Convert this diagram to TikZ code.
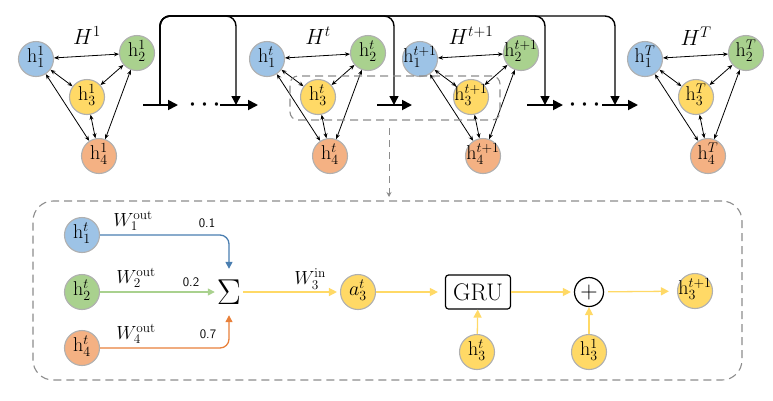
\RequirePackage{fix-cm}
\documentclass[tikz,border=0pt]{standalone}
\usetikzlibrary{arrows.meta,calc}
\definecolor{cblue}{HTML}{9DC3E6}
\definecolor{cgreen}{HTML}{A9D18E}
\definecolor{cyellow}{HTML}{FFD966}
\definecolor{corange}{HTML}{F4B183}
\definecolor{ablue}{HTML}{4A7EB0}
\definecolor{agreen}{HTML}{A9D18E}
\definecolor{aorange}{HTML}{E8803A}
\definecolor{ayellow}{HTML}{FFD966}
\definecolor{cborder}{HTML}{B0B0B0}
\definecolor{dgray}{HTML}{8C8C8C}
\newcommand\ctrtext[1]{\makebox[0pt]{\raisebox{-0.45ex}[0pt][0pt]{$#1$}}}
\tikzset{
  hnode/.style={circle, minimum size=35pt, inner sep=0pt, draw=cborder, line width=1.1pt, font=\fontsize{20}{22}\selectfont},
  gedge/.style={{Stealth[length=5pt,width=4pt]}-{Stealth[length=5pt,width=4pt]}, line width=0.8pt},
  mainarrow/.style={line width=1.8pt, -{Triangle[length=10pt,width=10pt]}},
  droparrow/.style={line width=1.4pt, rounded corners=10pt, -{Triangle[length=9pt,width=9pt]}},
  glabel/.style={font=\fontsize{22}{24}\selectfont},
  dotsnode/.style={font=\fontsize{32}{34}\selectfont, inner sep=0pt},
  barrow/.style={line width=1.3pt, -{Triangle[length=7pt,width=7pt]}},
  yarrow/.style={line width=1.3pt, ayellow, -{Triangle[length=8pt,width=8pt]}, shorten >=3pt},
  wlabel/.style={font=\fontsize{19}{21}\selectfont, inner sep=0pt},
  numlabel/.style={font=\sffamily\fontsize{13}{15}\selectfont, inner sep=0pt},
  dashbox/.style={draw=dgray, line width=1.1pt, dash pattern=on 8pt off 5pt},
}
\newcommand\hgroup[4]{%
  \begin{scope}[shift={(#2,0)}]
    \node[hnode, fill=cblue]   (#1a) at (0,59)   {\ctrtext{\mathrm{h}_{1}^{#3}}};
    \node[hnode, fill=cgreen]  (#1b) at (101,53) {\ctrtext{\mathrm{h}_{2}^{#3}}};
    \node[hnode, fill=cyellow] (#1c) at (51,97)  {\ctrtext{\mathrm{h}_{3}^{#3}}};
    \node[hnode, fill=corange] (#1d) at (63,156) {\ctrtext{\mathrm{h}_{4}^{#3}}};
    \node[glabel] (#1l) at (51,36) {$H^{#4}$};
    \draw[gedge] (#1a) -- (#1b);
    \draw[gedge] (#1a) -- (#1c);
    \draw[gedge] (#1b) -- (#1c);
    \draw[gedge] (#1a) -- (#1d);
    \draw[gedge] (#1b) -- (#1d);
    \draw[gedge] (#1c) -- (#1d);
  \end{scope}}
\begin{document}
\begin{tikzpicture}[x=1pt,y=-1pt]
\useasboundingbox (0,0) rectangle (773,400);
% graph snapshots
\hgroup{g1}{36}{1}{1}
\hgroup{gt}{267}{t}{t}
\hgroup{gu}{420}{t+1}{t+1}
\hgroup{gT}{645}{T}{T}
% main horizontal arrows
\coordinate (m1s) at (143,105); \coordinate (m1e) at (178,105);
\coordinate (m2s) at (220,105); \coordinate (m2e) at (258,105);
\coordinate (m3s) at (377,105); \coordinate (m3e) at (412,105);
\coordinate (m4s) at (527,105); \coordinate (m4e) at (563,105);
\coordinate (m5s) at (602,105); \coordinate (m5e) at (638,105);
\draw[mainarrow] (m1s) -- (m1e);
\draw[mainarrow] (m2s) -- (m2e);
\draw[mainarrow] (m3s) -- (m3e);
\draw[mainarrow] (m4s) -- (m4e);
\draw[mainarrow] (m5s) -- (m5e);
\node[dotsnode] (dots1) at (205,105) {${\cdot}\hspace{3pt}{\cdot}\hspace{3pt}{\cdot}$};
\node[dotsnode] (dots2) at (585,105) {${\cdot}\hspace{3pt}{\cdot}\hspace{3pt}{\cdot}$};
% skip connections
\coordinate (src) at (160,105);
\coordinate (d1) at (236,105);
\coordinate (d2) at (394,105);
\coordinate (d3) at (545,105);
\coordinate (d4) at (615,105);
\draw[droparrow] (src) -- (160,16) -| (d1);
\draw[droparrow] (src) -- (160,16) -| (d2);
\draw[droparrow] (src) -- (160,16) -| (d3);
\draw[droparrow] (src) -- (160,16) -| (d4);
% selection box
\node[dashbox, rounded corners=8pt, minimum width=210pt, minimum height=44pt, inner sep=0pt] (sel) at (395,98) {};
\coordinate (zs) at (389,128);
\coordinate (ze) at (389,197);
\draw[dgray, line width=1pt, dash pattern=on 7pt off 5pt, -{Stealth[length=5pt,width=5pt]}] (zs) -- (ze);
% detail box
\node[dashbox, rounded corners=20pt, minimum width=709pt, minimum height=179pt, inner sep=0pt] (detail) at (387.5,290.5) {};
% detail nodes
\node[hnode, fill=cblue]   (b1) at (82,235) {\ctrtext{\mathrm{h}_{1}^{t}}};
\node[hnode, fill=cgreen]  (b2) at (82,292) {\ctrtext{\mathrm{h}_{2}^{t}}};
\node[hnode, fill=corange] (b4) at (82,348) {\ctrtext{\mathrm{h}_{4}^{t}}};
\node[inner sep=0pt, minimum width=28pt, minimum height=46pt, font=\fontsize{36}{38}\selectfont] (sig) at (229,292) {$\Sigma$};
\node[hnode, fill=cyellow] (a3) at (358,292) {\ctrtext{a_{3}^{t}}};
\node[draw=black, line width=1.2pt, rounded corners=3pt, minimum width=65pt, minimum height=34pt, inner sep=0pt, font=\fontsize{24}{26}\selectfont] (gru) at (478,292) {GRU};
\node[circle, draw=black, line width=1.2pt, minimum size=29pt, inner sep=0pt, font=\fontsize{24}{26}\selectfont] (plus) at (589,292) {$+$};
\node[hnode, fill=cyellow] (h3n) at (695,291) {\ctrtext{\mathrm{h}_{3}^{t+1}}};
\node[hnode, fill=cyellow] (h3t) at (477,352) {\ctrtext{\mathrm{h}_{3}^{t}}};
\node[hnode, fill=cyellow] (h31) at (589,352) {\ctrtext{\mathrm{h}_{3}^{1}}};
% detail connectors
\draw[barrow, ablue, rounded corners=9pt] (b1) -| (sig);
\draw[barrow, agreen] (b2) -- (sig);
\draw[barrow, aorange, rounded corners=9pt] (b4) -| (sig);
\draw[yarrow] (sig) -- (a3);
\draw[yarrow, shorten >=7pt] (a3) -- (gru);
\draw[yarrow] (gru) -- (plus);
\draw[yarrow, shorten >=8pt, shorten <=4pt] (plus) -- (h3n);
\draw[yarrow, shorten >=0pt] (h3t) -- (gru);
\draw[yarrow, shorten >=0pt] (h31) -- (plus);
% labels
\node[wlabel] (w1) at (133,221) {$W_{1}^{\mathrm{out}}$};
\node[wlabel] (w2) at (136,278) {$W_{2}^{\mathrm{out}}$};
\node[wlabel] (w4) at (136,334) {$W_{4}^{\mathrm{out}}$};
\node[wlabel] (w3) at (310,279) {$W_{3}^{\mathrm{in}}$};
\node[numlabel] (n1) at (207,223) {0.1};
\node[numlabel] (n2) at (191,282) {0.2};
\node[numlabel] (n4) at (208,334) {0.7};
\end{tikzpicture}
\end{document}
